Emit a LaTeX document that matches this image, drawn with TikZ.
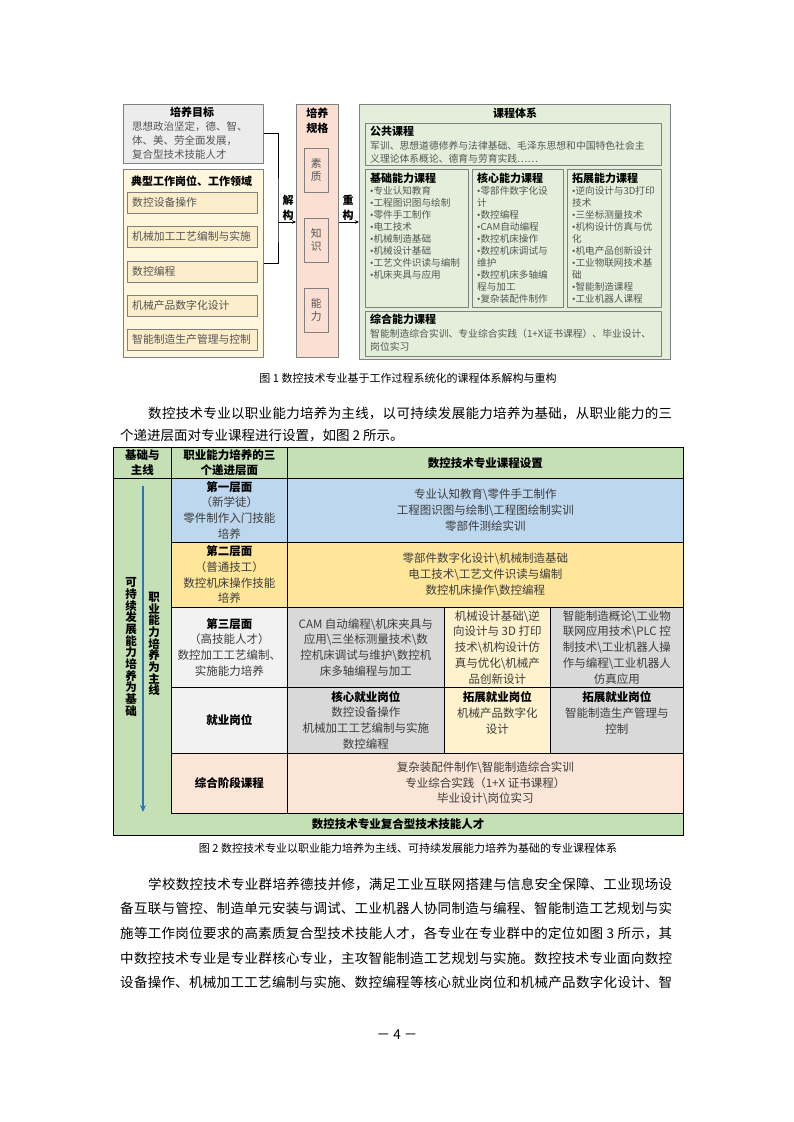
\documentclass[tikz,border=0pt]{standalone}
\usepackage{fontspec}
\setmainfont{Noto Sans CJK SC}
\newfontfamily\bulfont{Liberation Serif}
\usetikzlibrary{arrows.meta,positioning}
\XeTeXlinebreaklocale "zh"
\XeTeXlinebreakskip=0pt plus 1pt

\definecolor{goalgray}{HTML}{ECECEC}
\definecolor{workyellow}{HTML}{FFF6DE}
\definecolor{jobyellow}{HTML}{FCEDCB}
\definecolor{specpink}{HTML}{FADFD2}
\definecolor{coursegreen}{HTML}{E3EFDA}
\definecolor{boxgray}{HTML}{808080}
\definecolor{txtgray}{HTML}{555555}
\definecolor{tabtxt}{HTML}{3C3C3C}
\definecolor{hdgreen}{HTML}{C5E0B4}
\definecolor{rowblue}{HTML}{BDD7EE}
\definecolor{rowyellow}{HTML}{FFE699}
\definecolor{rowgray}{HTML}{F2F2F2}
\definecolor{cellgray}{HTML}{D9D9D9}
\definecolor{cellcream}{HTML}{FFF2CC}
\definecolor{rowpeach}{HTML}{FBE5D6}
\definecolor{arrowblue}{HTML}{2E75B6}

\newcommand\fighead{\fontsize{11}{15}\selectfont\bfseries}
\newcommand\goalfont{\fontsize{10.5}{14}\selectfont}
\newcommand\jobfont{\fontsize{10.8}{13}\selectfont}
\newcommand\pubfont{\fontsize{9.8}{13.5}\selectfont}
\newcommand\listfont{\fontsize{9.6}{12}\selectfont}
\newcommand\tabfont{\fontsize{11.5}{15.8}\selectfont}
\newcommand\tabhead{\fontsize{11.5}{15.5}\selectfont\bfseries}
\newcommand\vfont{\fontsize{11.5}{11.7}\selectfont\bfseries}
\newcommand\bodyfont{\fontsize{13.5}{16}\selectfont}
\newcommand\capfont{\fontsize{11}{13}\selectfont}
\newcommand\bsl{\textbackslash}
\newcommand\bul{{\bulfont •}}
\newcommand\hd[1]{{\color{black}\bfseries #1}}
\newcommand\justline[2]{\parbox{#1}{\parfillskip=0pt\relax #2}}

\begin{document}
\begin{tikzpicture}[x=1pt, y=-1pt, line join=round, >={Stealth[length=4pt,width=3.5pt]},
  box/.style={draw=boxgray, line width=.6pt, anchor=north west, inner sep=0pt},
  txt/.style={inner sep=0pt, text=txtgray},
  cell/.style={draw=black, line width=.6pt, anchor=north west, inner sep=0pt, align=center, font=\tabfont, text=tabtxt},
  bline/.style={anchor=west, inner sep=0pt, font=\bodyfont}]
\useasboundingbox[fill=white] (0,0) rectangle (793,1122);

% --- figure 1: left column
\node[box, fill=goalgray, minimum width=140, minimum height=59] (goal) at (123,104) {};
\node[txt, anchor=north west, font=\goalfont, align=left] (goaltxt) at ([shift={(9,3)}]goal.north west)
  {\makebox[120pt]{\color{black}\fighead 培养目标}\\思想政治坚定，德、智、\\体、美、劳全面发展，\\复合型技术技能人才};
\node[box, fill=workyellow, minimum width=140, minimum height=188] (work) at (123,169) {};
\node[anchor=west, inner sep=0pt, font=\fighead] (worktitle) at (131,181) {典型工作岗位、工作领域};
\foreach \i/\y/\t in {1/192/数控设备操作, 2/226/机械加工工艺编制与实施, 3/261/数控编程,
    4/295/机械产品数字化设计, 5/329/智能制造生产管理与控制}{
  \node[box, fill=jobyellow, minimum width=130, minimum height=21] (job\i) at (127,\y) {};
  \node[txt, anchor=west, font=\jobfont] (jobtxt\i) at ([shift={(5,0)}]job\i.west) {\t};
}

% --- figure 1: specification column
\node[box, fill=specpink, minimum width=42, minimum height=253] (spec) at (296,104) {};
\node[inner sep=0pt, font=\fighead, align=center, anchor=north] (spectitle) at ([shift={(0,4)}]spec.north) {培养\\规格};
\foreach \n/\y/\a/\b in {qual/148/素/质, know/218/知/识, abil/288/能/力}{
  \node[box, fill=specpink, minimum width=24, minimum height=44] (\n) at (304,\y) {};
  \node[txt, font=\jobfont, align=center] (\n txt) at (\n.center) {\a\\\b};
}

% --- figure 1: course system
\node[box, fill=coursegreen, minimum width=311, minimum height=255] (course) at (359,104) {};
\node[inner sep=0pt, font=\fighead] (coursetitle) at (515,113) {课程体系};
\node[box, fill=coursegreen, minimum width=296, minimum height=42] (pub) at (365,123) {};
\node[txt, anchor=north west, font=\pubfont, align=left] (pubtxt) at ([shift={(5,3)}]pub.north west)
  {\hd{\fighead 公共课程}\\军训、思想道德修养与法律基础、毛泽东思想和中国特色社会主\\义理论体系概论、德育与劳育实践……};
\node[box, fill=coursegreen, minimum width=103, minimum height=138] (basic) at (365,169) {};
\node[box, fill=coursegreen, minimum width=91, minimum height=138] (core) at (472,169) {};
\node[box, fill=coursegreen, minimum width=94, minimum height=138] (ext) at (567,169) {};
\node[txt, anchor=north west, font=\listfont, align=left] (basictxt) at ([shift={(5,4)}]basic.north west)
  {\hd{\fighead 基础能力课程}\\\bul 专业认知教育\\\bul 工程图识图与绘制\\\bul 零件手工制作\\\bul 电工技术\\\bul 机械制造基础\\\bul 机械设计基础\\\bul 工艺文件识读与编制\\\bul 机床夹具与应用};
\node[txt, anchor=north west, font=\listfont, align=left] (coretxt) at ([shift={(5,4)}]core.north west)
  {\hd{\fighead 核心能力课程}\\\bul 零部件数字化设\\计\\\bul 数控编程\\\bul CAM自动编程\\\bul 数控机床操作\\\bul 数控机床调试与\\维护\\\bul 数控机床多轴编\\程与加工\\\bul 复杂装配件制作};
\node[txt, anchor=north west, font=\listfont, align=left] (exttxt) at ([shift={(5,4)}]ext.north west)
  {\hd{\fighead 拓展能力课程}\\\bul 逆向设计与3D打印\\技术\\\bul 三坐标测量技术\\\bul 机构设计仿真与优\\化\\\bul 机电产品创新设计\\\bul 工业物联网技术基\\础\\\bul 智能制造课程\\\bul 工业机器人课程};
\node[box, fill=coursegreen, minimum width=296, minimum height=45] (comp) at (365,311) {};
\node[txt, anchor=north west, font=\pubfont, align=left] (comptxt) at ([shift={(5,3)}]comp.north west)
  {\hd{\fighead 综合能力课程}\\智能制造综合实训、专业综合实践（1+X证书课程）、毕业设计、\\岗位实习};

% --- figure 1: connectors
\coordinate (split) at (278,222);
\draw[line width=.7pt] (goal.east) -| (split) |- (work.east);
\draw[->, line width=.7pt] (split) -- (split -| spec.west);
\draw[->, line width=.7pt] (split -| spec.east) -- (split -| course.west);
\node[inner sep=0pt, font=\fighead, align=center] (decomp) at (288,208) {解\\构};
\node[inner sep=0pt, font=\fighead, align=center] (recon) at (348,208) {重\\构};

\node[font=\capfont] (cap1) at (408,378) {图 1 数控技术专业基于工作过程系统化的课程体系解构与重构};

% --- paragraph
\node[bline] (p2a) at (148,413) {\justline{524pt}{数控技术专业以职业能力培养为主线，以可持续发展能力培养为基础，从职业能力的三}};
\node[bline] (p2b) at (120,436) {个递进层面对专业课程进行设置，如图 2 所示。};

% --- figure 2: table
\node[cell, fill=hdgreen, minimum width=570, minimum height=388] (frame) at (113,447) {};
\node[cell, fill=hdgreen, minimum width=58, minimum height=31, font=\tabhead, text=black] (h1) at (113,447) {基础与\\主线};
\node[cell, fill=hdgreen, minimum width=116, minimum height=31, font=\tabhead, text=black] (h2) at (171,447) {职业能力培养的三\\个递进层面};
\node[cell, fill=hdgreen, minimum width=396, minimum height=31, font=\tabhead, text=black] (h3) at (287,447) {数控技术专业课程设置};

\node[cell, fill=rowblue, minimum width=116, minimum height=64] (lv1) at (171,478)
  {\hd{第一层面}\\（新学徒）\\零件制作入门技能\\培养};
\node[cell, fill=rowblue, minimum width=396, minimum height=64] (c1) at (287,478)
  {专业认知教育\bsl 零件手工制作\\工程图识图与绘制\bsl 工程图绘制实训\\零部件测绘实训};
\node[cell, fill=rowyellow, minimum width=116, minimum height=65] (lv2) at (171,542)
  {\hd{第二层面}\\（普通技工）\\数控机床操作技能\\培养};
\node[cell, fill=rowyellow, minimum width=396, minimum height=65] (c2) at (287,542)
  {零部件数字化设计\bsl 机械制造基础\\电工技术\bsl 工艺文件识读与编制\\数控机床操作\bsl 数控编程};

\node[cell, fill=rowgray, minimum width=116, minimum height=80] (lv3) at (171,607)
  {\hd{第三层面}\\（高技能人才）\\数控加工工艺编制、\\实施能力培养};
\node[cell, fill=cellgray, minimum width=157, minimum height=80] (c3a) at (287,607)
  {CAM 自动编程\bsl 机床夹具与\\应用\bsl 三坐标测量技术\bsl 数\\控机床调试与维护\bsl 数控机\\床多轴编程与加工};
\node[cell, fill=cellcream, minimum width=106, minimum height=80] (c3b) at (444,607)
  {机械设计基础\bsl 逆\\向设计与 3D 打印\\技术\bsl 机构设计仿\\真与优化\bsl 机械产\\品创新设计};
\node[cell, fill=cellgray, minimum width=133, minimum height=80] (c3c) at (550,607)
  {智能制造概论\bsl 工业物\\联网应用技术\bsl PLC 控\\制技术\bsl 工业机器人操\\作与编程\bsl 工业机器人\\仿真应用};

\node[cell, fill=rowgray, minimum width=116, minimum height=66] (lv4) at (171,687) {\hd{就业岗位}};
\node[cell, fill=cellgray, minimum width=157, minimum height=66] (c4a) at (287,687)
  {\hd{核心就业岗位}\\数控设备操作\\机械加工工艺编制与实施\\数控编程};
\node[cell, fill=cellcream, minimum width=106, minimum height=66] (c4b) at (444,687)
  {\hd{拓展就业岗位}\\机械产品数字化\\设计\\\mbox{}};
\node[cell, fill=cellgray, minimum width=133, minimum height=66] (c4c) at (550,687)
  {\hd{拓展就业岗位}\\智能制造生产管理与\\控制\\\mbox{}};

\node[cell, fill=rowpeach, minimum width=116, minimum height=60] (lv5) at (171,753) {\hd{综合阶段课程}};
\node[cell, fill=rowpeach, minimum width=396, minimum height=60] (c5) at (287,753)
  {复杂装配件制作\bsl 智能制造综合实训\\专业综合实践（1+X 证书课程）\\毕业设计\bsl 岗位实习};

\node[inner sep=0pt, font=\tabhead] (talent) at (398,824) {数控技术专业复合型技术技能人才};

% main line arrow and vertical labels
\coordinate (arrtop) at (143,486);
\coordinate (arrbot) at (143,812);
\draw[-{Stealth[length=7pt,width=6pt]}, arrowblue, line width=1.4pt] (arrtop) -- (arrbot);
\node[inner sep=0pt, font=\vfont, align=center] (basis) at (131,647) {可\\持\\续\\发\\展\\能\\力\\培\\养\\为\\基\\础};
\node[inner sep=0pt, font=\vfont, align=center] (mainline) at (154,644) {职\\业\\能\\力\\培\\养\\为\\主\\线};

\node[font=\capfont] (cap2) at (408,848) {图 2 数控技术专业以职业能力培养为主线、可持续发展能力培养为基础的专业课程体系};

% --- paragraph
\node[bline] (p3a) at (148,884) {\justline{524pt}{学校数控技术专业群培养德技并修，满足工业互联网搭建与信息安全保障、工业现场设}};
\node[bline] (p3b) at (120,908) {\justline{552pt}{备互联与管控、制造单元安装与调试、工业机器人协同制造与编程、智能制造工艺规划与实}};
\node[bline] (p3c) at (120,933) {\justline{552pt}{施等工作岗位要求的高素质复合型技术技能人才，各专业在专业群中的定位如图 3 所示，其}};
\node[bline] (p3d) at (120,958) {\justline{552pt}{中数控技术专业是专业群核心专业，主攻智能制造工艺规划与实施。数控技术专业面向数控}};
\node[bline] (p3e) at (120,982) {\justline{552pt}{设备操作、机械加工工艺编制与实施、数控编程等核心就业岗位和机械产品数字化设计、智}};

\node[font=\bodyfont] (pageno) at (397,1035) {－ 4 －};
\end{tikzpicture}
\end{document}
